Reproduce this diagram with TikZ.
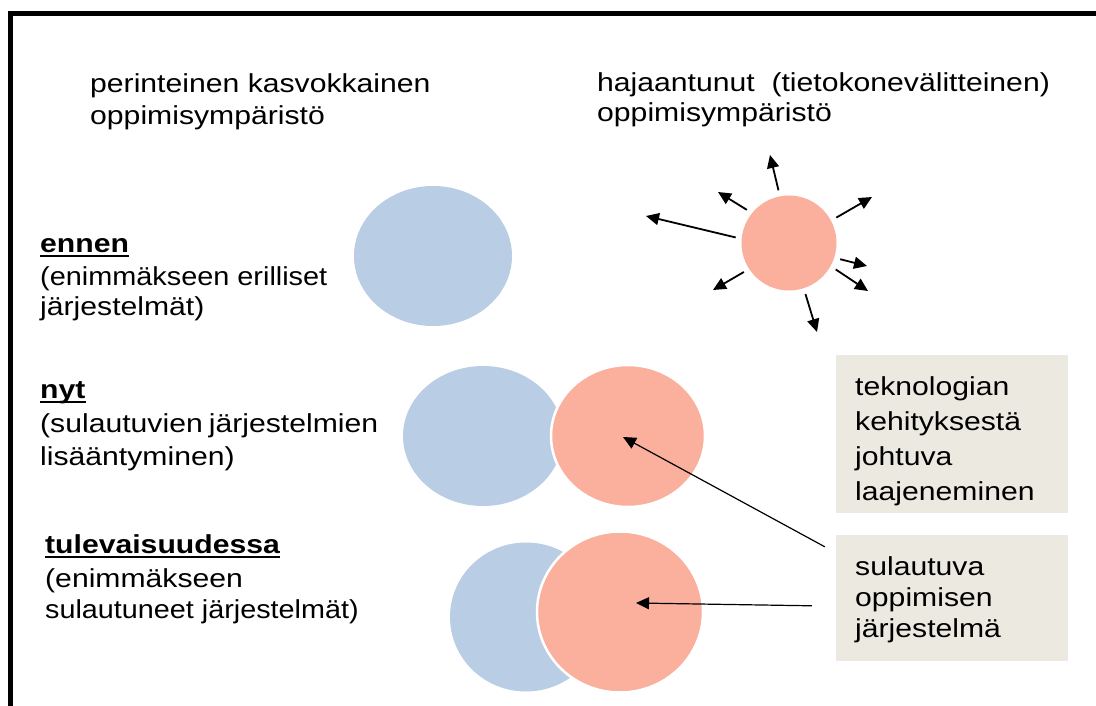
\documentclass[tikz,border=0pt]{standalone}
\usepackage{fontspec}
\usepackage{graphicx}
\setmainfont{Liberation Sans}[FakeStretch=1.16]
\usetikzlibrary{shapes.geometric,arrows.meta}
\definecolor{blueC}{RGB}{185,205,229}
\definecolor{salmonC}{RGB}{250,176,156}
\definecolor{boxC}{RGB}{236,234,224}
\begin{document}
\begin{tikzpicture}[x=1pt,y=-1pt,
  txt/.style={anchor=base west,inner sep=0pt,font=\fontsize{26}{32}\selectfont},
  btxt/.style={txt,font=\fontsize{26}{32}\selectfont\bfseries},
  blob/.style={ellipse,inner sep=0pt,fill=blueC},
  sal/.style={ellipse,inner sep=0pt,fill=salmonC,draw=white,line width=2.5pt},
  tbox/.style={fill=boxC,draw=none},
  sarr/.style={-{Triangle[length=13pt,width=12pt]},line width=1.8pt,shorten <=6pt},
  larr/.style={-{Triangle[length=13pt,width=12pt]},line width=1.2pt},
  uline/.style={line width=2pt}]
\useasboundingbox (0,0) rectangle (1096,706);
\draw[line width=5pt] (1120,14) -- (10,14) -- (10,730);

% headers
\node[txt] (h1) at (90,93) {perinteinen kasvokkainen};
\node[txt] (h2) at (90,125) {oppimisympäristö};
\node[txt] (h3) at (597,92) {hajaantunut\ \ (tietokonevälitteinen)};
\node[txt] (h4) at (597,122) {oppimisympäristö};

% ennen
\node[btxt] (e1) at (40,252) {ennen};
\draw[uline] ([yshift=-4pt]e1.base west) -- ([yshift=-4pt]e1.base east);
\node[txt] (e2) at (40,285) {\scalebox{0.957}[1]{(enimmäkseen erilliset}};
\node[txt] (e3) at (40,315) {järjestelmät)};

% nyt
\node[btxt] (n1) at (40,398) {nyt};
\draw[uline] ([yshift=-4pt]n1.base west) -- ([yshift=-4pt]n1.base east);
\node[txt] (n2) at (40,432) {\hbox to 338pt{(sulautuvien\hfill järjestelmien}};
\node[txt] (n3) at (40,465) {lisääntyminen)};

% tulevaisuudessa
\node[btxt] (t1) at (45,553) {tulevaisuudessa};
\draw[uline] ([yshift=-4pt]t1.base west) -- ([yshift=-4pt]t1.base east);
\node[txt] (t2) at (45,587) {(enimmäkseen};
\node[txt] (t3) at (45,618) {\scalebox{0.954}[1]{sulautuneet järjestelmät)}};

% ennen blob
\node[blob,minimum width=158pt,minimum height=140pt] (b1) at (433,256) {};

% star
\node[ellipse,inner sep=0pt,fill=salmonC,minimum width=95pt,minimum height=95pt] (star) at (789,243) {};
\coordinate (s1) at (646,216);
\coordinate (s2) at (718,192);
\coordinate (s3) at (770,155);
\coordinate (s4) at (872,197);
\coordinate (s5) at (867,266);
\coordinate (s6) at (868,291);
\coordinate (s7) at (713,290);
\coordinate (s8) at (817,332);
\draw[sarr] (star.175) -- (s1);
\draw[sarr] (star.141) -- (s2);
\draw[sarr] (star.101) -- (s3);
\draw[sarr] (star.28) -- (s4);
\draw[sarr] (star.-18) -- (s5);
\draw[sarr] (star.-29) -- (s6);
\draw[sarr] (star.-147) -- (s7);
\draw[sarr] (star.-72) -- (s8);

% nyt blobs
\node[blob,minimum width=160pt,minimum height=140pt] (b2) at (483,436) {};
\node[sal,minimum width=154pt,minimum height=142pt] (c2) at (628,436) {};

% future blobs
\node[blob,minimum width=152pt,minimum height=149pt] (b3) at (526,617) {};
\node[sal,minimum width=166pt,minimum height=161pt] (c3) at (620,612) {};

% boxes
\fill[tbox] (836,355) rectangle (1068,513);
\node[inner sep=0pt] (box1) at (952,434) {};
\begin{scope}
\clip (836,355) rectangle (1068,513);
\node[txt] (k1) at (855,395) {teknologian};
\node[txt] (k2) at (855,430) {kehityksestä};
\node[txt] (k3) at (855,465) {johtuva};
\node[txt] (k4) at (855,500) {laajeneminen};
\end{scope}
\node[tbox,minimum width=232pt,minimum height=126pt,inner sep=0pt] (box2) at (952,598) {};
\node[txt] (m1) at (855,575) {sulautuva};
\node[txt] (m2) at (855,606) {oppimisen};
\node[txt] (m3) at (855,637) {järjestelmä};

% arrows
\coordinate (a1) at (623,437);
\coordinate (a2) at (636,603);
\draw[larr] ([shift={(-11pt,-12pt)}]box2.north west) -- (a1);
\draw[larr] ([shift={(-24pt,-71pt)}]box2.north west) -- (a2);
\end{tikzpicture}
\end{document}
